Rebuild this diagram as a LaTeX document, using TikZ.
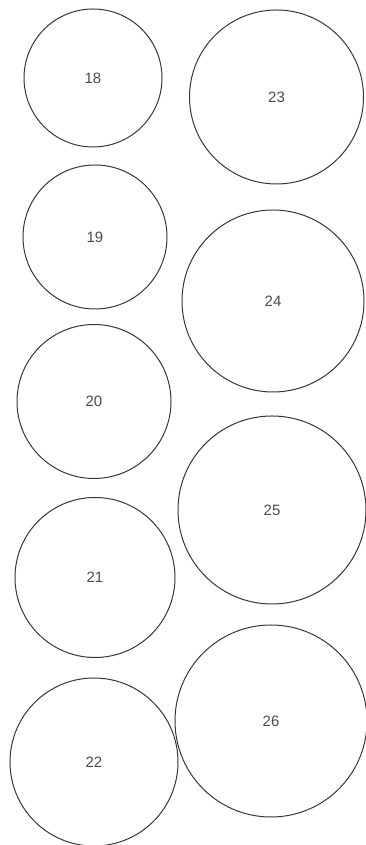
\documentclass[tikz,border=0pt]{standalone}
\usepackage{fontspec}
\setmainfont{Liberation Sans}
\usepackage{xcolor}
\usepackage{tikz}
\usetikzlibrary{positioning}

\begin{document}
\begin{tikzpicture}[x=1pt,y=1pt,
  ring/.style={circle,draw=drawColor,line width=1.0pt,text=textColor,
    inner sep=0pt,outer sep=0pt,font=\fontsize{15}{15}\selectfont}]
\definecolor{fillColor}{RGB}{255,255,255}
\definecolor{drawColor}{gray}{0.22}
\definecolor{textColor}{gray}{0.30}
\path[use as bounding box,fill=fillColor] (0,0) rectangle (365,845);

% left column
\node[ring,minimum size=138] (c18) at ( 93.0,767.0) {18};
\node[ring,minimum size=144] (c19) at ( 95.0,608.0) {19};
\node[ring,minimum size=154] (c20) at ( 94.0,443.5) {20};
\node[ring,minimum size=160] (c21) at ( 95.0,267.5) {21};
\node[ring,minimum size=168] (c22) at ( 94.0, 83.0) {22};

% right column
\node[ring,minimum size=174] (c23) at (276.5,748.0) {23};
\node[ring,minimum size=182] (c24) at (273.0,544.0) {24};
\node[ring,minimum size=188] (c25) at (272.0,335.0) {25};
\node[ring,minimum size=192] (c26) at (271.0,124.0) {26};
\end{tikzpicture}
\end{document}
